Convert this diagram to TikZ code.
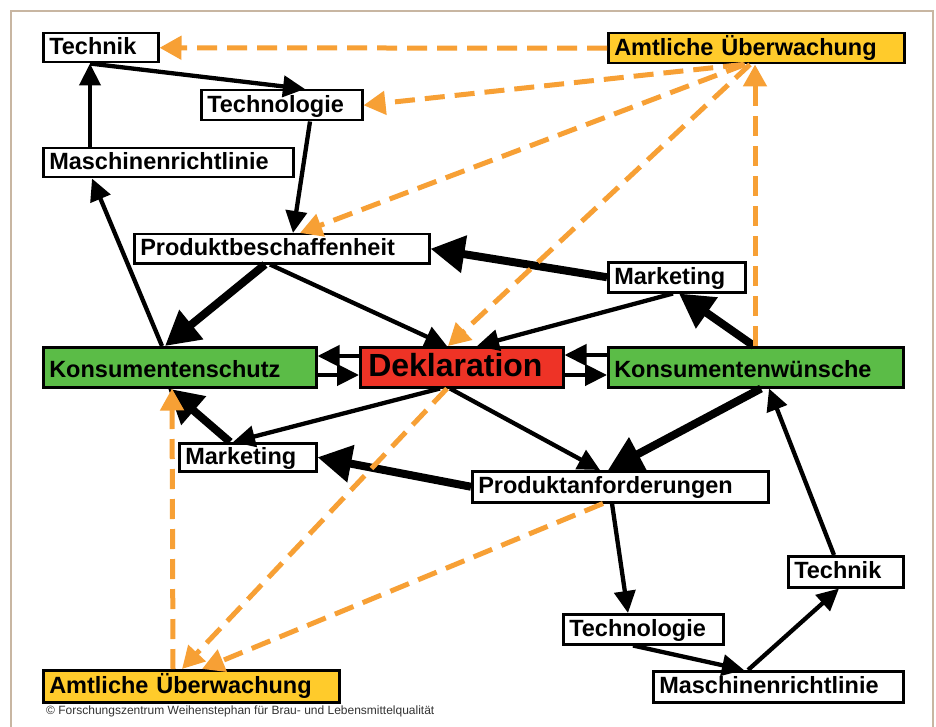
\documentclass[tikz,border=0pt]{standalone}
\usepackage{fontspec}
\setmainfont{Liberation Sans}
\usetikzlibrary{arrows.meta,calc}
\definecolor{dOrange}{HTML}{F7A035}
\definecolor{dYellow}{HTML}{FFCB2B}
\definecolor{dGreen}{HTML}{5BBC47}
\definecolor{dRed}{HTML}{EE3326}
\definecolor{dFrame}{HTML}{C8B6A2}
\begin{document}
\begin{tikzpicture}[x=1pt,y=-1pt,
  lbl/.style={draw=black, line width=2.5pt, fill=white, anchor=north west,
    inner xsep=6pt, inner ysep=0pt, align=left,
    font=\fontsize{23.5}{26}\selectfont\bfseries, text height=18pt, text depth=4pt},
  grn/.style={lbl, fill=dGreen, text height=22pt, text depth=2pt},
  ylw/.style={lbl, fill=dYellow},
  dekl/.style={lbl, fill=dRed, inner xsep=8pt, font=\fontsize{32}{36}\selectfont\bfseries, text height=24pt, text depth=6pt},
  arA/.style={line width=4.3pt, -{Triangle[length=22pt,width=21pt]}},
  arB/.style={line width=8pt, -{Triangle[length=34pt,width=36pt]}},
  arO/.style={dOrange, line width=5pt, dash pattern=on 20pt off 10pt, -{Triangle[length=22pt,width=23pt]}}
]
\useasboundingbox (0,0) rectangle (936,727);
\fill[white] (0,0) rectangle (936,727);
\draw[dFrame, line width=2pt] (11,11) rectangle (933,760);

% nodes
\node[lbl, text width=103pt, minimum height=29pt] (tT) at (42,32) {Technik};
\node[lbl, text width=149pt, minimum height=30pt] (tTg) at (200,89) {Technologie};
\node[lbl, text width=238pt, minimum height=29pt] (tM) at (42,147) {Maschinenrichtlinie};
\node[ylw, text width=284pt, minimum height=30pt] (aT) at (607,32) {Amtliche Überwachung};
\node[lbl, text width=283pt, minimum height=29pt] (pB) at (133,233) {Produktbeschaffenheit};
\node[lbl, text width=125pt, minimum height=30pt] (mR) at (607,261) {Marketing};
\node[grn, text width=261pt, minimum height=40pt] (kS) at (42,346) {Konsumentenschutz};
\node[dekl, text width=187pt, minimum height=40pt] (dK) at (359,346) {Deklaration};
\node[grn, text width=283pt, minimum height=40pt] (kW) at (607,346) {Konsumentenwünsche};
\node[lbl, text width=125pt, minimum height=28pt] (mL) at (178,442) {Marketing};
\node[lbl, text width=284pt, minimum height=31pt] (pA) at (471,470) {Produktanforderungen};
\node[lbl, text width=103pt, minimum height=31pt] (bT) at (787,555) {Technik};
\node[lbl, text width=148pt, minimum height=30pt] (bTg) at (562,613) {Technologie};
\node[lbl, text width=238pt, minimum height=31pt] (bM) at (652,670) {Maschinenrichtlinie};
\node[ylw, text width=284pt, minimum height=32pt] (aB) at (42,669) {Amtliche Überwachung};
\node[anchor=west, inner sep=0pt, text=black!80, font=\fontsize{12}{14}\selectfont] (copy) at (46,711) {© Forschungszentrum Weihenstephan für Brau- und Lebensmittelqualität};

% black connectors
\draw[arA] ($(tT.south west)+(48,0)$) -- ($(tTg.north west)+(105,0)$);
\draw[arA] ($(tM.north west)+(48,0)$) -- ($(tT.south west)+(48,0)$);
\draw[arA] ($(tTg.south west)+(110,0)$) -- ($(pB.north west)+(160,0)$);
\draw[arA] ($(kS.north west)+(120,0)$) -- ($(tM.south west)+(50,0)$);
\draw[arB] (mR.west) -- (pB.east);
\draw[arB] ($(pB.south west)+(132,0)$) -- ($(kS.north west)+(123,0)$);
\draw[arA] ($(pB.south west)+(137,0)$) -- ($(dK.north west)+(88,0)$);
\draw[arA] ($(mR.south west)+(66,0)$) -- ($(dK.north west)+(118,0)$);
\draw[arB] ($(kW.north west)+(147,0)$) -- ($(mR.south west)+(72,0)$);
\draw[arA] ($(dK.north west)+(0,10)$) -- ($(kS.north east)+(0,10)$);
\draw[arA] ($(kS.north east)+(0,29)$) -- ($(dK.north west)+(0,29)$);
\draw[arA] ($(kW.north west)+(0,9)$) -- ($(dK.north east)+(0,9)$);
\draw[arA] ($(dK.north east)+(0,29)$) -- ($(kW.north west)+(0,29)$);
\draw[arA] ($(dK.south west)+(81,0)$) -- ($(mL.north west)+(55,0)$);
\draw[arB] ($(mL.north west)+(52,0)$) -- ($(kS.south west)+(126,0)$);
\draw[arA] ($(dK.south west)+(91,0)$) -- ($(pA.north west)+(129,0)$);
\draw[arB] ($(kW.south west)+(154,0)$) -- ($(pA.north west)+(137,0)$);
\draw[arB] (pA.west) -- (mL.east);
\draw[arA] ($(pA.south west)+(141,0)$) -- ($(bTg.north west)+(66,0)$);
\draw[arA] ($(bTg.south west)+(71,0)$) -- ($(bM.north west)+(92,0)$);
\draw[arA] ($(bM.north west)+(96,0)$) -- ($(bT.south west)+(52,0)$);
\draw[arA] ($(bT.north west)+(47,0)$) -- ($(kW.south west)+(162,0)$);

% orange dashed connectors
\draw[arO] (aT.west) -- (tT.east);
\draw[arO] ($(aT.south west)+(136,0)$) -- (tTg.east);
\draw[arO] ($(aT.south west)+(138,0)$) -- ($(pB.north west)+(167,0)$);
\draw[arO] ($(aT.south west)+(143,0)$) -- ($(dK.north west)+(89,0)$);
\draw[arO] ($(kW.north west)+(148,0)$) -- ($(aT.south west)+(148,0)$);
\draw[arO] ($(aB.north west)+(131,0)$) -- ($(kS.south west)+(130,0)$);
\draw[arO] ($(dK.south west)+(88,0)$) -- ($(aB.north west)+(140,0)$);
\draw[arO] ($(pA.south west)+(132,0)$) -- ($(aB.north west)+(160,0)$);
\end{tikzpicture}
\end{document}
